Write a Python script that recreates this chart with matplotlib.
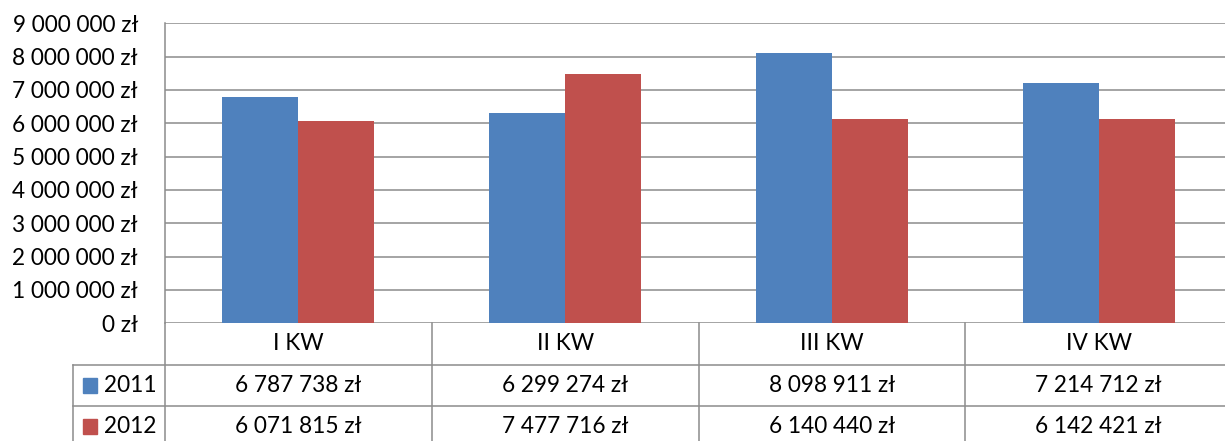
import matplotlib.pyplot as plt
import matplotlib.ticker as mticker
import matplotlib.patches as mpatches

quarters = ["I KW", "II KW", "III KW", "IV KW"]
years = ["2011", "2012"]
sales_2011 = [6787738, 6299274, 8098911, 7214712]
sales_2012 = [6071815, 7477716, 6140440, 6142421]
colors = ["#4F81BD", "#C0504D"]
grid_col = "#8C8C8C"

plt.rcParams['font.family'] = ['Lato', 'DejaVu Sans']
plt.rcParams['font.size'] = 16.3

def zl(v, pos=None):
    return f"{v:,.0f}".replace(",", " ") + " zł"

W, H = 1225, 441
fig = plt.figure(figsize=(W / 100, H / 100), dpi=100)

# plot area (right side runs a bit past the picture edge, like the original crop)
left, right = 165, 1232
top, zero = 23.3, 323.3
ax = fig.add_axes([left / W, (H - zero) / H, (right - left) / W, (zero - top) / H])

x = list(range(len(quarters)))
bw = 0.285
ax.bar([i - bw / 2 for i in x], sales_2011, bw, color=colors[0], zorder=3)
ax.bar([i + bw / 2 for i in x], sales_2012, bw, color=colors[1], zorder=3)

ax.set_xlim(-0.5, len(quarters) - 0.5)
ax.set_ylim(0, 9000000)
ax.yaxis.set_major_locator(mticker.MultipleLocator(1000000))
ax.yaxis.set_major_formatter(mticker.FuncFormatter(zl))
ax.grid(axis='y', color=grid_col, linewidth=1.1, zorder=0)
ax.set_xticks([])
ax.tick_params(axis='y', length=0, pad=19.5)
for s in ["top", "right", "bottom"]:
    ax.spines[s].set_visible(False)
ax.spines["left"].set_color(grid_col)
ax.spines["left"].set_linewidth(1.1)
ax.spines["left"].set_zorder(4)

# data table under the chart
row_h = 41.3
tab = fig.add_axes([left / W, (H - zero - 3 * row_h) / H, (right - left) / W, 3 * row_h / H])
tab.set_xlim(-0.5, len(quarters) - 0.5)
tab.set_ylim(3, 0)
tab.axis('off')

leg_x = -0.5 - (left - 73) / ((right - left) / len(quarters))
lkw = dict(color=grid_col, linewidth=1.1, clip_on=False)
for b in [-0.5, 0.5, 1.5, 2.5]:
    tab.plot([b, b], [0, 3], **lkw)
tab.plot([leg_x, leg_x], [1, 3], **lkw)
for r in [1, 2]:
    tab.plot([leg_x, len(quarters) - 0.5], [r, r], **lkw)

for i, q in enumerate(quarters):
    tab.text(i, 0.5, q, ha='center', va='center')
    tab.text(i, 1.5, zl(sales_2011[i]), ha='center', va='center')
    tab.text(i, 2.5, zl(sales_2012[i]), ha='center', va='center')

sq = 0.053
for r, (yr, c) in enumerate(zip(years, colors)):
    tab.add_patch(mpatches.Rectangle((leg_x + 0.037, r + 1.5 - 0.18), sq, 0.36,
                                     color=c, clip_on=False))
    tab.text(-0.53, r + 1.5, yr, ha='right', va='center')

fig.savefig("out.png", dpi=100)
